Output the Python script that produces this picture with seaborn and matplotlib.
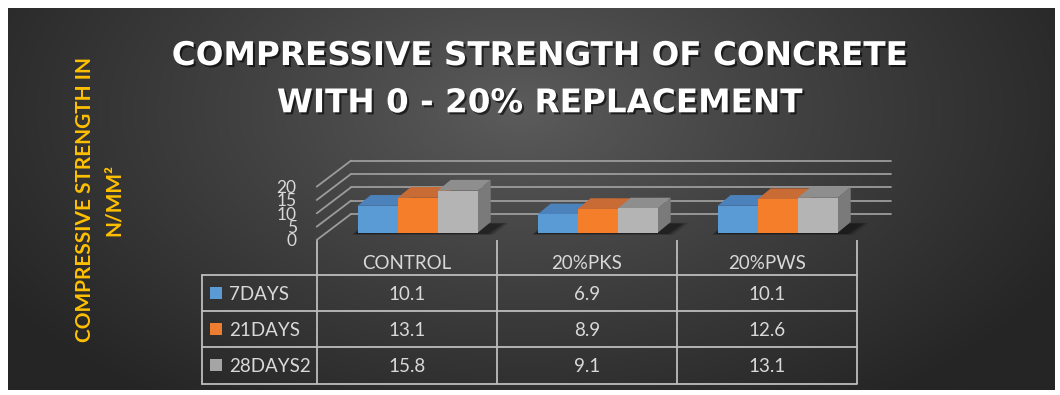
import numpy as np
import pandas as pd
import matplotlib
matplotlib.use("Agg")
import matplotlib.pyplot as plt
import seaborn as sns
from matplotlib.patches import Polygon, Rectangle
from matplotlib.transforms import IdentityTransform, offset_copy
import matplotlib.patheffects as pe

# ---------------- data ----------------
categories = ["CONTROL", "20%PKS", "20%PWS"]
series_names = ["7DAYS", "21DAYS", "28DAYS2"]
days7 = [10.1, 6.9, 10.1]
days21 = [13.1, 8.9, 12.6]
days28 = [15.8, 9.1, 13.1]
y_ticks = [0, 5, 10, 15, 20]
title_lines = ["COMPRESSIVE STRENGTH OF CONCRETE", "WITH 0 - 20% REPLACEMENT"]
ylabel_lines = ["COMPRESSIVE STRENGTH IN", "N/MM\u00b2"]

# ---------------- style ----------------
front_colors = ["#5b9bd5", "#f47e2a", "#b4b4b4"]
top_colors = ["#4c82bc", "#c86b34", "#8e8e8e"]
side_colors = ["#3f6ea1", "#ad5a27", "#7a7a7a"]
key_colors = ["#5b9bd5", "#ed7d31", "#a5a5a5"]
text_col = "#d9d9d9"
grid_col = "#9c9c9c"
table_col = "#bdbdbd"

W, H = 1060, 395
sns.set_theme(style="white")
plt.rcParams["font.family"] = ["Lato", "DejaVu Sans"]

fig = plt.figure(figsize=(W / 100, H / 100), dpi=100, facecolor="white")

# background axes in image pixel coordinates (y down)
bg = fig.add_axes([0, 0, 1, 1])
X0, X1, Y0, Y1 = 8, 1055, 8, 390
xx, yy = np.meshgrid(np.linspace(X0, X1, 500), np.linspace(Y0, Y1, 250))
r = np.sqrt(((xx - 520) / 620) ** 2 + ((yy - 110) / 360) ** 2)
r = np.clip(r, 0, 1) ** 0.9
c_in = np.array([0x5c, 0x5c, 0x5c]) / 255
c_out = np.array([0x25, 0x25, 0x25]) / 255
img = c_in[None, None, :] * (1 - r[..., None]) + c_out[None, None, :] * r[..., None]
bg.imshow(img, extent=(X0, X1, Y1, Y0), aspect="auto", zorder=0, interpolation="bilinear")
bg.set_xlim(0, W)
bg.set_ylim(H, 0)
bg.axis("off")

# ---------------- bar axes (front plane of the bars) ----------------
px_per_cat = 180.0
cx0 = 417.7
y0_px = 232.7
px_per_unit = 2.667
left = cx0 - 0.5 * px_per_cat
ax = fig.add_axes([left / W, (H - y0_px) / H, 3 * px_per_cat / W, 20 * px_per_unit / H])
ax.set_facecolor("none")

df = pd.DataFrame({
    "category": categories * 3,
    "series": np.repeat(series_names, len(categories)),
    "value": days7 + days21 + days28,
})
bar_width = 0.667
sns.barplot(data=df, x="category", y="value", hue="series", order=categories,
            hue_order=series_names, palette=front_colors, width=bar_width,
            saturation=1, ax=ax, legend=False, linewidth=0, edgecolor="none")
bars = [p for p in ax.patches if isinstance(p, Rectangle)]
ax.set_xlim(-0.5, 2.5)
ax.set_ylim(0, 20)
ax.axis("off")

# projection offsets (display pixels, y up)
dep_dx, dep_dy = 13.0, 10.7          # bar depth
floor_dx, floor_dy = -11.0, -7.3     # front edge of floor relative to bar front plane
back_dx, back_dy = 23.3, 18.7        # back wall relative to bar front plane

def disp(x, y):
    return ax.transData.transform((x, y))

# back wall gridlines + side wall diagonals
for v in y_ticks:
    bx0, by = disp(-0.5, v)
    bx1, _ = disp(2.5, v)
    ax.add_artist(plt.Line2D([bx0 + back_dx, bx1 + back_dx], [by + back_dy, by + back_dy],
                             transform=IdentityTransform(), color=grid_col, lw=1.3,
                             zorder=1, clip_on=False))
    ax.add_artist(plt.Line2D([bx0 + floor_dx, bx0 + back_dx], [by + floor_dy, by + back_dy],
                             transform=IdentityTransform(), color=grid_col, lw=1.3,
                             zorder=1, clip_on=False))

# floor shadows for clusters
sub_w = bar_width / len(series_names)
for k in range(len(categories)):
    xl, yb = disp(k - bar_width / 2, 0)
    xr, _ = disp(k + bar_width / 2, 0)
    for i, a in enumerate([0.10, 0.12, 0.16, 0.22]):
        g = 4 - i
        poly = [(xl - 2 - g, yb - 1 - g * 0.3), (xr + 8 + g * 2, yb - 1 - g * 0.3),
                (xr + dep_dx + 10 + g * 2, yb + dep_dy - 2 + g * 0.3), (xl + dep_dx - 2 - g, yb + dep_dy - 2 + g * 0.3)]
        ax.add_artist(Polygon(poly, closed=True, transform=IdentityTransform(),
                              facecolor="black", alpha=a, edgecolor="none",
                              zorder=1.5, clip_on=False))

# 3D faces for each bar
for p in bars:
    x = p.get_x()
    w = p.get_width()
    hgt = p.get_height()
    xc = x + w / 2
    k = int(round(xc))
    h = int(round((xc - k) / sub_w + (len(series_names) - 1) / 2))
    xl, yb = disp(x, 0)
    xr, yt = disp(x + w, hgt)
    side = [(xr, yb), (xr + dep_dx, yb + dep_dy), (xr + dep_dx, yt + dep_dy), (xr, yt)]
    top = [(xl, yt), (xr, yt), (xr + dep_dx, yt + dep_dy), (xl + dep_dx, yt + dep_dy)]
    ax.add_artist(Polygon(side, closed=True, transform=IdentityTransform(),
                          facecolor=side_colors[h], edgecolor="none", zorder=2 + 3 * h, clip_on=False))
    ax.add_artist(Polygon(top, closed=True, transform=IdentityTransform(),
                          facecolor=top_colors[h], edgecolor="none", zorder=3 + 3 * h, clip_on=False))
    p.set_zorder(4 + 3 * h)
    p.set_clip_on(False)

# y tick labels along the front-left edge of the side wall
tick_tr = offset_copy(ax.transData, fig=fig, x=floor_dx - 20, y=floor_dy - 6.5, units="dots")
for v in y_ticks:
    ax.text(-0.5, v, str(v), transform=tick_tr, ha="right", va="baseline",
            fontsize=12.5, color=text_col, clip_on=False)

# ---------------- data table ----------------
col_edges = [disp(k - 0.5, 0)[0] + floor_dx for k in range(len(categories) + 1)]
col_centers = [(col_edges[i] + col_edges[i + 1]) / 2 for i in range(len(categories))]
floor_top = H - (disp(0, 0)[1] + floor_dy)   # image y of floor front edge
row_edges = [275.0, 311.2, 347.4, 383.5]
tab_left = 201.7

for xe in col_edges:
    bg.plot([xe, xe], [floor_top, row_edges[-1]], color=table_col, lw=1.3, zorder=2, solid_capstyle="butt")
bg.plot([tab_left, tab_left], [row_edges[0], row_edges[-1]], color=table_col, lw=1.3, zorder=2)
for ye in row_edges:
    bg.plot([tab_left, col_edges[-1]], [ye, ye], color=table_col, lw=1.3, zorder=2)

for cx, name in zip(col_centers, categories):
    bg.text(cx, 269.0, name, ha="center", va="baseline", fontsize=13.5, color=text_col, zorder=3)

rows = [days7, days21, days28]
for i, (sname, vals) in enumerate(zip(series_names, rows)):
    yc = (row_edges[i] + row_edges[i + 1]) / 2
    base = yc + 6.7
    bg.add_patch(Rectangle((210, yc - 6), 12, 12, facecolor=key_colors[i], edgecolor="none", zorder=3))
    bg.text(229, base, sname, ha="left", va="baseline", fontsize=13.5, color=text_col, zorder=3)
    for cx, v in zip(col_centers, vals):
        bg.text(cx, base, f"{v:.1f}", ha="center", va="baseline", fontsize=13.5, color=text_col, zorder=3)

# ---------------- title ----------------
shadow = [pe.withSimplePatchShadow(offset=(1.5, -1.5), shadow_rgbFace="black", alpha=0.6)]
for txt, base in zip(title_lines, [65.0, 112.3]):
    bg.text(539.5, base, txt, ha="center", va="baseline", fontsize=23.5, fontweight="bold",
            family=["DejaVu Sans"], color="white", zorder=4, path_effects=shadow)

# ---------------- y axis title ----------------
for txt, bx in zip(ylabel_lines, [90.7, 120.0]):
    bg.text(bx, 200, txt, rotation=90, rotation_mode="anchor", ha="center", va="baseline",
            fontsize=15, fontweight="bold", color="#ffc000", zorder=4)

fig.savefig("out.png", dpi=100, facecolor="white")
